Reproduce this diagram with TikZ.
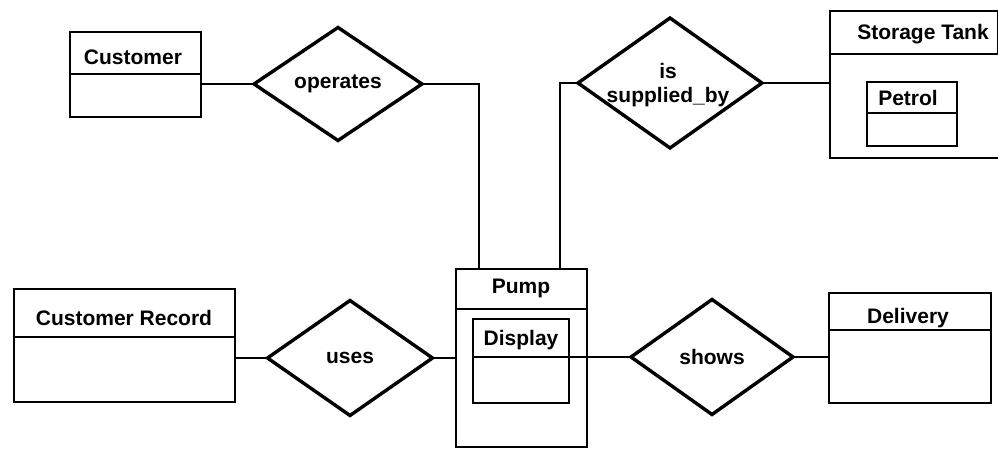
\documentclass[tikz,border=0pt]{standalone}
\usepackage{fontspec}
\setmainfont{Liberation Sans}
\usetikzlibrary{shapes.geometric,calc}
\tikzset{
  ent/.style={draw, line width=2.8pt, rectangle, inner sep=0pt, outer sep=0pt, anchor=north west},
  rel/.style={draw, line width=3.4pt, diamond, inner sep=0pt, outer sep=0pt},
  lbl/.style={font=\fontsize{21}{25}\selectfont\bfseries, inner sep=0pt, align=center},
  conn/.style={line width=2.4pt},
  divl/.style={line width=2.4pt}
}
\begin{document}
\begin{tikzpicture}[x=1pt,y=-1pt]
\useasboundingbox (0,0) rectangle (998,449);
% entities
\node[ent, minimum width=131pt, minimum height=85pt] (customer) at (70,32) {};
\node[ent, minimum width=221pt, minimum height=113pt] (custrec) at (14,289) {};
\node[ent, minimum width=131pt, minimum height=178pt] (pump) at (456,269) {};
\node[ent, minimum width=96pt, minimum height=84pt] (display) at (473,319) {};
\node[ent, minimum width=162pt, minimum height=110pt] (delivery) at (829,293) {};
\node[ent, draw=none, minimum width=168pt, minimum height=147pt] (storage) at (830,11) {};
\node[ent, minimum width=90pt, minimum height=64pt] (petrol) at (867,82) {};
% storage tank outline (cut off at the right edge)
\draw[line width=2.8pt] (storage.north east) -- (storage.north west) -- (storage.south west) -- (storage.south east);
\draw[line width=2.4pt] ([yshift=-43pt]storage.north west) -- ([yshift=-43pt]storage.north east) -- ([yshift=0pt]storage.north east);
% dividers
\draw[divl] ([yshift=-42pt]customer.north west) -- ([yshift=-42pt]customer.north east);
\draw[divl] ([yshift=-48pt]custrec.north west) -- ([yshift=-48pt]custrec.north east);
\draw[divl] ([yshift=-40pt]pump.north west) -- ([yshift=-40pt]pump.north east);
\draw[divl] ([yshift=-38pt]display.north west) -- ([yshift=-38pt]display.north east);
\draw[divl] ([yshift=-37pt]delivery.north west) -- ([yshift=-37pt]delivery.north east);
\draw[divl] ([yshift=-31pt]petrol.north west) -- ([yshift=-31pt]petrol.north east);
% entity labels
\node[lbl] (tcustomer) at (133,57) {Customer};
\node[lbl] (tcustrec) at (124,318) {Customer Record};
\node[lbl] (tpump) at (521,288) {Pump};
\node[lbl] (tdisplay) at (521,340) {Display};
\node[lbl] (tdelivery) at (908,318) {Delivery};
\node[lbl] (tstorage) at (923,34) {Storage Tank};
\node[lbl] (tpetrol) at (908,98) {Petrol};
% relationships
\node[rel, minimum width=168pt, minimum height=113pt] (operates) at (338,84) {};
\node[rel, minimum width=184pt, minimum height=130pt] (supplied) at (670,83) {};
\node[rel, minimum width=165pt, minimum height=115pt] (uses) at (350,358) {};
\node[rel, minimum width=162pt, minimum height=115pt] (shows) at (712,357) {};
\node[lbl] (toperates) at (338,84) {operates};
\node[lbl] (tsupplied) at (668,85) {is\\[-1pt]supplied\_by};
\node[lbl] (tuses) at (350,358) {uses};
\node[lbl] (tshows) at (712,357) {shows};
% connectors
\path (pump.north west) ++(23,0) coordinate (p1);
\path (pump.north west) ++(104,0) coordinate (p2);
\draw[conn] (operates.west) -- (operates.west -| customer.east);
\draw[conn] (operates.east) -| (p1);
\draw[conn] (supplied.west) -| (p2);
\draw[conn] (supplied.east) -- (supplied.east -| storage.west);
\draw[conn] (uses.west) -- (uses.west -| custrec.east);
\draw[conn] (uses.east) -- (uses.east -| pump.west);
\draw[conn] (shows.west) -- (shows.west -| display.east);
\draw[conn] (shows.east) -- (shows.east -| delivery.west);
\end{tikzpicture}
\end{document}
